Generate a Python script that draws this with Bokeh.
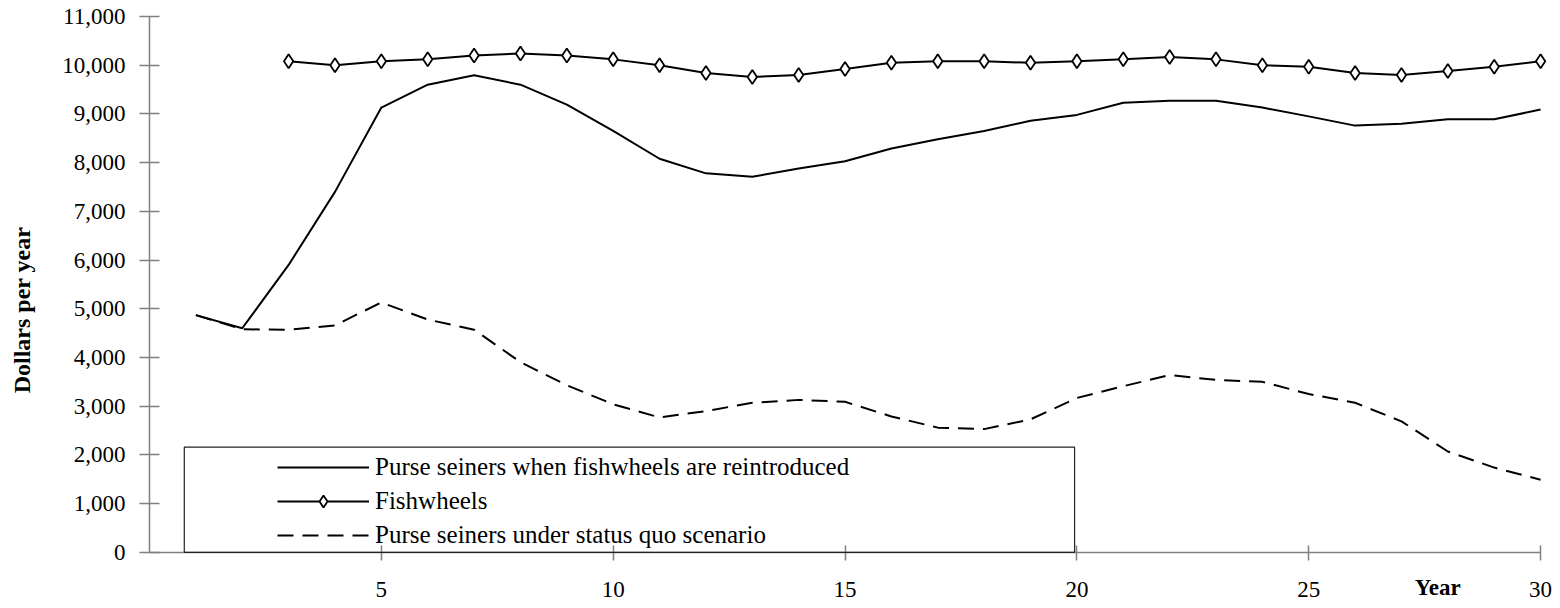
from bokeh.plotting import figure
from bokeh.models import (Range1d, NumeralTickFormatter, FixedTicker, Legend,
                          LegendItem, Label, BoxAnnotation)
from bokeh.embed import file_html
from bokeh.resources import INLINE

# ---- data ----
years = list(range(1, 31))
seiners_reintroduced = [4870, 4600, 5900, 7400, 9130, 9600, 9795, 9600, 9190, 8650,
                        8080, 7780, 7710, 7880, 8030, 8290, 8480, 8650, 8860, 8980,
                        9230, 9270, 9270, 9130, 8950, 8760, 8800, 8890, 8890, 9090]
fish_years = list(range(3, 31))
fishwheels = [10080, 10000, 10080, 10120, 10200, 10240, 10200, 10120, 10000, 9840,
              9760, 9800, 9920, 10050, 10080, 10080, 10050, 10080, 10120, 10170,
              10120, 10000, 9970, 9840, 9800, 9880, 9970, 10080]
status_quo = [4870, 4580, 4570, 4660, 5130, 4780, 4570, 3905, 3430, 3040,
              2770, 2900, 3070, 3130, 3090, 2790, 2560, 2530, 2730, 3170,
              3410, 3640, 3540, 3500, 3250, 3070, 2690, 2070, 1740, 1490]
x_ticks = [5, 10, 15, 20, 25, 30]
y_ticks = list(range(0, 11001, 1000))
labels = ["Purse seiners when fishwheels are reintroduced",
          "Fishwheels",
          "Purse seiners under status quo scenario"]

FONT = "Liberation Serif"
AXIS_COLOR = "#808080"

# the frame extends a little below 0 and right of 30 so that the x axis
# (fixed at 0, bounded to 0..30) has room for its labels and the caption
p = figure(frame_width=1405, frame_height=587,
           x_range=Range1d(0, 30.3), y_range=Range1d(-1050, 11000),
           output_backend="svg", toolbar_location=None,
           min_border_left=149, min_border_right=0,
           min_border_top=16, min_border_bottom=0)
p.outline_line_color = None
p.xgrid.grid_line_color = None
p.ygrid.grid_line_color = None
p.background_fill_color = "white"
p.border_fill_color = "white"

# axes
p.xaxis.fixed_location = 0
p.xaxis.bounds = (0, 30)
p.yaxis.bounds = (0, 11000)
p.xaxis.ticker = FixedTicker(ticks=x_ticks)
p.yaxis.ticker = FixedTicker(ticks=y_ticks)
p.yaxis.formatter = NumeralTickFormatter(format="0,0")
for ax in (p.xaxis[0], p.yaxis[0]):
    ax.axis_line_color = AXIS_COLOR
    ax.axis_line_width = 1.5
    ax.major_tick_line_color = AXIS_COLOR
    ax.major_tick_line_width = 1.5
    ax.minor_tick_line_color = None
    ax.major_label_text_font = FONT
    ax.major_label_text_font_size = "23px"
    ax.major_label_text_color = "black"
p.yaxis.major_tick_in = 10
p.yaxis.major_tick_out = 10
p.yaxis.major_label_standoff = 14
p.xaxis.major_tick_in = 7
p.xaxis.major_tick_out = 8
p.xaxis.major_label_standoff = 22
p.yaxis.axis_label = "Dollars per year"
p.yaxis.axis_label_text_font = FONT
p.yaxis.axis_label_text_font_style = "bold"
p.yaxis.axis_label_text_font_size = "24px"
p.yaxis.axis_label_text_color = "black"
p.yaxis.axis_label_standoff = 24

# series
r1 = p.line(years, seiners_reintroduced, line_color="black", line_width=2)
r2 = p.line(fish_years, fishwheels, line_color="black", line_width=2)
r2m = p.scatter(fish_years, fishwheels, marker="diamond", size=14,
                fill_color="white", line_color="black", line_width=1.8)
r3 = p.line(years, status_quo, line_color="black", line_width=2,
            line_dash="16 9")

# legend frame
box = BoxAnnotation(left=0.75, right=19.95, bottom=0, top=2160,
                    fill_alpha=0, line_color="#222222", line_alpha=1.0,
                    line_width=1.2)
p.add_layout(box)

legend = Legend(items=[LegendItem(label=labels[0], renderers=[r1]),
                       LegendItem(label=labels[1], renderers=[r2, r2m]),
                       LegendItem(label=labels[2], renderers=[r3])],
                location=(128, 53), orientation="vertical",
                glyph_width=92, glyph_height=30, label_height=30,
                spacing=4, padding=0, margin=0, label_standoff=6,
                border_line_color=None, background_fill_alpha=0,
                label_text_font=FONT, label_text_font_size="25px",
                label_text_color="black")
p.add_layout(legend)

# x axis caption near the right end, on the tick-label row
year_label = Label(x=27.78, y=-720, text="Year", text_font=FONT,
                   text_font_style="bold", text_font_size="23px",
                   text_align="center", text_baseline="middle",
                   text_color="black")
p.add_layout(year_label)

open("out.html", "w").write(file_html(p, INLINE))
